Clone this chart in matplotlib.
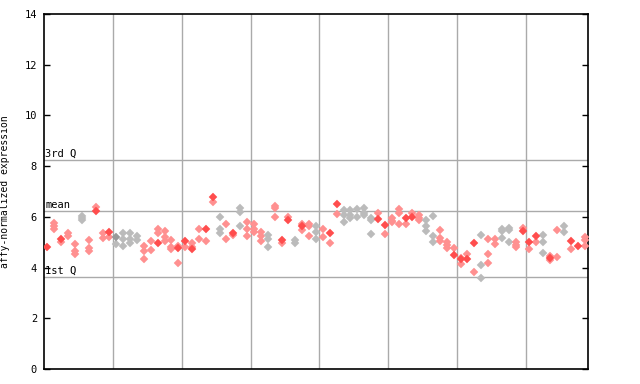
import matplotlib
matplotlib.use("Agg")
import matplotlib.pyplot as plt

# expression values per sample column (solid = first replicate, hatched = others)
solid = [4.82, None, 5.14, None, None, None, None, 6.25, None, 5.41,
         5.22, None, None, None, None, None, 4.98, None, None, 4.77,
         5.03, 4.72, None, 5.54, 6.78, None, None, 5.38, None, None,
         None, None, None, None, 5.09, 5.88, None, 5.62, None, None,
         None, 5.35, 6.51, None, None, None, None, None, 5.91, 5.67,
         None, None, 5.94, 5.99, None, None, None, None, None, 4.48,
         4.32, 4.34, 4.95, None, None, None, None, None, None, 5.43,
         5.01, 5.25, None, 4.37, None, None, 5.03, 4.87, None]

hatched = [[], [5.75, 5.63, 5.51], [5.01], [5.38, 5.25], [4.93, 4.66, 4.53],
           [6.04, 5.96, 5.86], [5.09, 4.77, 4.64], [6.39], [5.35, 5.17], [5.22],
           [4.93], [5.38, 5.11, 4.85], [5.35, 5.11, 4.98], [5.25, 5.09], [4.85, 4.66, 4.34],
           [5.03, 4.69], [5.51, 5.35], [5.43, 5.19, 5.03], [5.09, 4.82, 4.74], [4.87, 4.19],
           [4.82], [4.98, 4.82], [5.54, 5.11], [5.06], [6.60],
           [6.01, 5.51, 5.38], [5.70, 5.11], [5.30], [6.36, 6.20, 5.64], [5.80, 5.51, 5.25],
           [5.70, 5.51, 5.41], [5.41, 5.25, 5.03], [5.30, 5.11, 4.82], [6.44, 6.33, 6.01], [4.98],
           [6.01], [5.09, 4.95], [5.72, 5.48], [5.72, 5.64, 5.25], [5.64, 5.41, 5.11],
           [5.51, 5.22], [4.98], [6.13], [6.28, 6.09, 5.78], [6.28, 6.07, 5.96],
           [6.31, 6.01], [6.36, 6.15, 6.07], [5.96, 5.86, 5.33], [6.16], [5.33],
           [5.96, 5.83, 5.78], [6.32, 6.16, 5.72], [5.70], [6.16], [6.09, 5.96, 5.86],
           [5.86, 5.64, 5.43], [6.04, 5.25, 5.01], [5.48, 5.17, 5.06], [5.01, 4.90, 4.77], [4.77],
           [4.37, 4.13], [4.53], [3.81], [5.30, 4.11, 3.58], [5.11, 4.53, 4.19],
           [5.11, 4.93], [5.51, 5.43, 5.17], [5.56, 5.48, 5.01], [5.01, 4.90, 4.80], [5.56],
           [4.72], [5.01], [5.30, 5.01, 4.58], [4.45, 4.29], [5.48, 4.42],
           [5.62, 5.41], [4.72], [], [5.19, 5.09, 4.87]]

gray_cols = [5, 10, 11, 12, 13, 25, 28, 32, 36, 39, 43, 44, 45, 46, 47,
             55, 56, 63, 66, 67, 72, 75]

group_edges = [9.5, 19.5, 29.5, 39.5, 49.5, 59.5, 69.5]
q3, mean_val, q1 = 8.24, 6.23, 3.63

n = len(hatched)

fig = plt.figure(figsize=(6.4, 3.84), dpi=100)
ax = fig.add_axes([44 / 640, 15 / 384, 544 / 640, 355 / 384])

font = dict(family="DejaVu Sans Mono", size=7.5)

for xe in group_edges:
    ax.axvline(xe, color="#aaaaaa", lw=1, zorder=1)
for yv in (q3, mean_val, q1):
    ax.axhline(yv, color="#aaaaaa", lw=1, zorder=1)

for k in range(n):
    is_gray = k in gray_cols
    c_solid = "#999999" if is_gray else "#ff4d4d"
    c_hatch = "#bbbbbb" if is_gray else "#ff9090"
    hv = hatched[k]
    if hv:
        ax.plot([k] * len(hv), hv, linestyle="none", marker="D", ms=3.6,
                mfc=c_hatch, mec=c_hatch, mew=0.3, zorder=3)
    if solid[k] is not None:
        ax.plot([k], [solid[k]], linestyle="none", marker="D", ms=3.8,
                mfc=c_solid, mec=c_solid, mew=0.3, zorder=4)

ax.text(0.002, q3 + 0.05, "3rd Q", transform=ax.get_yaxis_transform(),
        ha="left", va="bottom", **font)
ax.text(0.002, mean_val + 0.05, "mean", transform=ax.get_yaxis_transform(),
        ha="left", va="bottom", **font)
ax.text(0.002, q1 + 0.05, "1st Q", transform=ax.get_yaxis_transform(),
        ha="left", va="bottom", **font)

ax.set_xlim(-0.5, n - 0.5)
ax.set_ylim(0, 14)
ax.set_yticks(range(0, 15, 2))
ax.set_xticks([])
ax.tick_params(axis="y", direction="in", length=4, width=1, right=True,
               labelright=False, pad=5)
for lab in ax.get_yticklabels():
    lab.set_fontfamily("DejaVu Sans Mono")
    lab.set_fontsize(7.5)
for sp in ax.spines.values():
    sp.set_linewidth(1.2)
    sp.set_color("black")

ax.set_ylabel("affy-normalized expression", fontfamily="DejaVu Sans Mono",
              fontsize=7)
ax.yaxis.set_label_coords(-34 / 544, 0.5)

fig.savefig("out.png", dpi=100)
